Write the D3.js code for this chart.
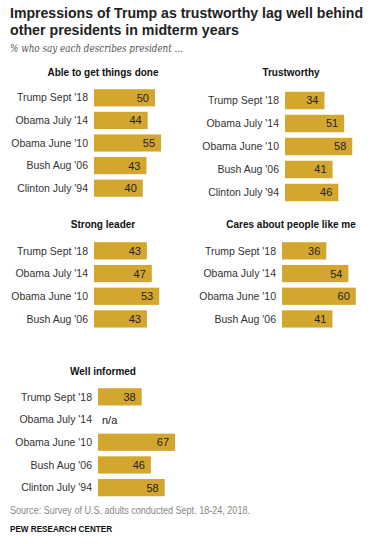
<!DOCTYPE html>
<html lang="en">
<head>
  <meta charset="UTF-8">
  <title>Impressions of Trump as trustworthy</title>
  <style>
    body { margin: 0; background: #fff; }
    text { font-family: "Liberation Sans", Arial, sans-serif; }
  </style>
</head>
<body>
  <svg id="chart"></svg>

  <script src="https://d3js.org/d3.v7.min.js"></script>
  <script>
    const ableLabels = ["Trump Sept '18", "Obama July '14", "Obama June '10", "Bush Aug '06", "Clinton July '94"];
    const ableValues = [50, 44, 55, 43, 40];

    const trustLabels = ["Trump Sept '18", "Obama July '14", "Obama June '10", "Bush Aug '06", "Clinton July '94"];
    const trustValues = [34, 51, 58, 41, 46];

    const leaderLabels = ["Trump Sept '18", "Obama July '14", "Obama June '10", "Bush Aug '06"];
    const leaderValues = [43, 47, 53, 43];

    const caresLabels = ["Trump Sept '18", "Obama July '14", "Obama June '10", "Bush Aug '06"];
    const caresValues = [36, 54, 60, 41];

    const informedLabels = ["Trump Sept '18", "Obama July '14", "Obama June '10", "Bush Aug '06", "Clinton July '94"];
    const informedValues = [38, null, 67, 46, 58];

    const W = 385, H = 544;
    const gold = "#d3a72f";

    const svg = d3.select("#chart")
      .attr("width", W)
      .attr("height", H);

    // header
    svg.append("text").attr("x", 10).attr("y", 18)
      .attr("font-size", 15).attr("font-weight", "bold").attr("fill", "#222")
      .attr("textLength", 353).attr("lengthAdjust", "spacingAndGlyphs")
      .text("Impressions of Trump as trustworthy lag well behind");
    svg.append("text").attr("x", 10).attr("y", 35)
      .attr("font-size", 15).attr("font-weight", "bold").attr("fill", "#222")
      .attr("textLength", 229).attr("lengthAdjust", "spacingAndGlyphs")
      .text("other presidents in midterm years");
    svg.append("text").attr("x", 10).attr("y", 52)
      .attr("font-size", 11).attr("font-style", "italic").attr("fill", "#555")
      .style("font-family", "'DejaVu Serif', 'Liberation Serif', serif")
      .attr("textLength", 173).attr("lengthAdjust", "spacingAndGlyphs")
      .text("% who say each describes president ...");

    // one small-multiple panel
    function panel(title, labels, values, o) {
      const g = svg.append("g");
      const y = d3.scaleBand()
        .domain(labels)
        .range([o.top, o.top + labels.length * o.step])
        .paddingInner(0.24)
        .paddingOuter(0.12);
      const x = d3.scaleLinear()
        .domain([0, 100])
        .range([o.x0, o.x0 + o.k * 100]);

      g.append("text")
        .attr("x", o.tx).attr("y", o.ty)
        .attr("text-anchor", "middle")
        .attr("font-size", 10).attr("font-weight", "bold").attr("fill", "#111")
        .text(title);

      const rows = g.selectAll(".row")
        .data(labels.map((d, i) => ({ label: d, value: values[i] })))
        .join("g")
        .attr("class", "row");

      rows.append("text")
        .attr("x", o.x0 - 6)
        .attr("y", d => y(d.label) + y.bandwidth() / 2)
        .attr("dy", "0.35em")
        .attr("text-anchor", "end")
        .attr("font-size", 10.5).attr("fill", "#333")
        .text(d => d.label);

      rows.filter(d => d.value != null).append("rect")
        .attr("x", x(0))
        .attr("y", d => y(d.label))
        .attr("width", d => x(d.value) - x(0))
        .attr("height", y.bandwidth())
        .attr("fill", gold);

      rows.append("text")
        .attr("x", d => d.value != null ? x(d.value) - 6 : x(0) + 4)
        .attr("y", d => y(d.label) + y.bandwidth() / 2)
        .attr("dy", "0.36em")
        .attr("text-anchor", d => d.value != null ? "end" : "start")
        .attr("font-size", 11).attr("fill", "#222")
        .text(d => d.value != null ? d.value : "n/a");
    }

    panel("Able to get things done", ableLabels, ableValues,
      { x0: 94, k: 1.22, top: 86.5, step: 22.6, tx: 103, ty: 76 });
    panel("Trustworthy", trustLabels, trustValues,
      { x0: 285, k: 1.16, top: 89, step: 23, tx: 291, ty: 76 });
    panel("Strong leader", leaderLabels, leaderValues,
      { x0: 94, k: 1.23, top: 239.5, step: 22.7, tx: 103, ty: 228 });
    panel("Cares about people like me", caresLabels, caresValues,
      { x0: 282, k: 1.23, top: 239.5, step: 22.7, tx: 291, ty: 228 });
    panel("Well informed", informedLabels, informedValues,
      { x0: 98, k: 1.15, top: 385.5, step: 22.7, tx: 103, ty: 375 });

    // footer
    svg.append("text").attr("x", 10).attr("y", 514)
      .attr("font-size", 10).attr("fill", "#888")
      .attr("textLength", 240).attr("lengthAdjust", "spacingAndGlyphs")
      .text("Source: Survey of U.S. adults conducted Sept. 18-24, 2018.");
    svg.append("text").attr("x", 10).attr("y", 532)
      .attr("font-size", 9).attr("font-weight", "bold").attr("fill", "#111")
      .attr("textLength", 102).attr("lengthAdjust", "spacingAndGlyphs")
      .text("PEW RESEARCH CENTER");
  </script>
</body>
</html>
